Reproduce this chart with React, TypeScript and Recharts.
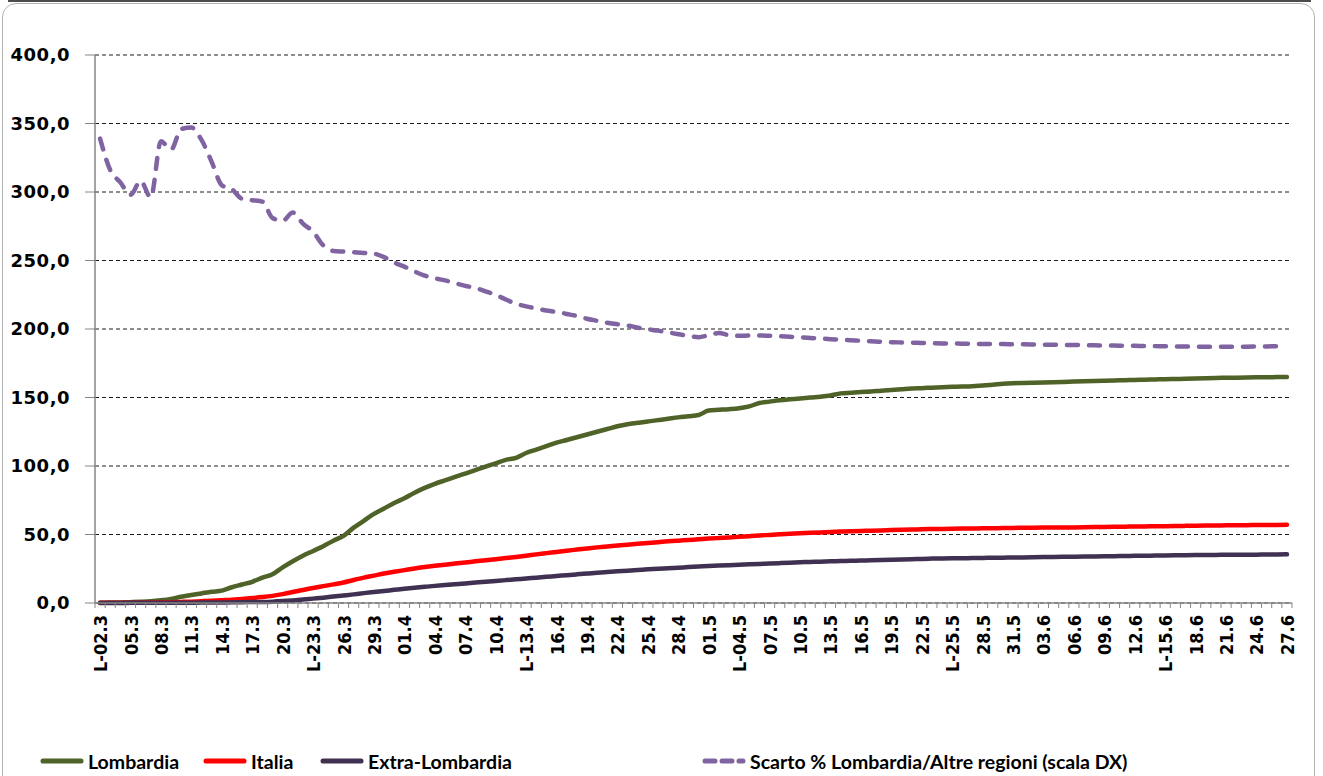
import React from 'react';
import { LineChart, Line, XAxis, YAxis, CartesianGrid } from 'recharts';

// giorni (L- = lunedì)
const DAYS = [
  'L-02.3', '03.3', '04.3', '05.3', '06.3', '07.3', '08.3', 'L-09.3', '10.3', '11.3',
  '12.3', '13.3', '14.3', '15.3', 'L-16.3', '17.3', '18.3', '19.3', '20.3', '21.3',
  '22.3', 'L-23.3', '24.3', '25.3', '26.3', '27.3', '28.3', '29.3', 'L-30.3', '31.3',
  '01.4', '02.4', '03.4', '04.4', '05.4', 'L-06.4', '07.4', '08.4', '09.4', '10.4',
  '11.4', '12.4', 'L-13.4', '14.4', '15.4', '16.4', '17.4', '18.4', '19.4', 'L-20.4',
  '21.4', '22.4', '23.4', '24.4', '25.4', '26.4', 'L-27.4', '28.4', '29.4', '30.4',
  '01.5', '02.5', '03.5', 'L-04.5', '05.5', '06.5', '07.5', '08.5', '09.5', '10.5',
  'L-11.5', '12.5', '13.5', '14.5', '15.5', '16.5', '17.5', 'L-18.5', '19.5', '20.5',
  '21.5', '22.5', '23.5', '24.5', 'L-25.5', '26.5', '27.5', '28.5', '29.5', '30.5',
  '31.5', 'L-01.6', '02.6', '03.6', '04.6', '05.6', '06.6', '07.6', 'L-08.6', '09.6',
  '10.6', '11.6', '12.6', '13.6', '14.6', 'L-15.6', '16.6', '17.6', '18.6', '19.6',
  '20.6', '21.6', 'L-22.6', '23.6', '24.6', '25.6', '26.6', '27.6',
];

const LOMBARDIA = [
  0.2, 0.3, 0.4, 0.6, 0.9, 1.3, 2.0, 3.0, 4.5, 5.8,
  7.0, 8.2, 9.0, 11.5, 13.5, 15.5, 18.5, 21.0, 26.0, 30.5,
  34.5, 38.0, 41.5, 45.5, 49.0, 55.0, 60.0, 65.0, 69.0, 73.0,
  76.5, 80.5, 84.0, 87.0, 89.5, 92.0, 94.5, 97.0, 99.5, 102.0,
  104.5, 106.0, 109.5, 112.0, 114.5, 117.0, 119.0, 121.0, 123.0, 125.0,
  127.0, 129.0, 130.5, 131.5, 132.5, 133.5, 134.5, 135.5, 136.3, 137.2,
  140.5, 141.0, 141.5, 142.2, 143.5, 146.0, 147.0, 148.0, 148.7, 149.3,
  150.0, 150.6, 151.5, 153.0, 153.5, 154.0, 154.3, 155.0, 155.5, 156.0,
  156.5, 156.8, 157.2, 157.5, 157.8, 158.0, 158.3, 158.8, 159.3, 160.0,
  160.4, 160.6, 160.8, 161.0, 161.2, 161.4, 161.6, 161.8, 162.0, 162.2,
  162.4, 162.6, 162.8, 163.0, 163.2, 163.4, 163.5, 163.7, 163.9, 164.1,
  164.3, 164.4, 164.5, 164.6, 164.7, 164.8, 164.9, 165.0,
];

const ITALIA = [
  0.1, 0.1, 0.2, 0.2, 0.3, 0.4, 0.5, 0.6, 0.8, 1.0,
  1.3, 1.6, 2.0, 2.4, 3.0, 3.6, 4.3, 5.2, 6.5, 8.0,
  9.5, 11.0, 12.3, 13.6, 15.0, 16.8, 18.5, 20.0, 21.5, 22.8,
  24.0, 25.2, 26.3, 27.2, 28.0, 28.8, 29.6, 30.4, 31.2, 32.0,
  32.8, 33.6, 34.5, 35.5, 36.4, 37.3, 38.2, 39.0, 39.8, 40.6,
  41.3, 42.0, 42.6, 43.2, 43.8, 44.4, 45.0, 45.5, 46.0, 46.5,
  47.0, 47.4, 47.8, 48.3, 48.8, 49.3, 49.7, 50.1, 50.5, 50.9,
  51.2, 51.5, 51.8, 52.1, 52.4, 52.6, 52.8, 53.0, 53.2, 53.4,
  53.6, 53.8, 54.0, 54.1, 54.2, 54.3, 54.4, 54.5, 54.6, 54.7,
  54.8, 54.9, 55.0, 55.05, 55.1, 55.15, 55.2, 55.3, 55.4, 55.5,
  55.6, 55.7, 55.8, 55.9, 56.0, 56.1, 56.2, 56.3, 56.4, 56.5,
  56.6, 56.7, 56.8, 56.8, 56.9, 57.0, 57.0, 57.1,
];

const EXTRA_LOMBARDIA = [
  0.0, 0.0, 0.0, 0.1, 0.1, 0.1, 0.1, 0.2, 0.2, 0.2,
  0.3, 0.3, 0.4, 0.5, 0.6, 0.7, 0.8, 1.0, 1.4, 1.9,
  2.5, 3.2, 3.9, 4.7, 5.5, 6.3, 7.2, 8.0, 8.8, 9.6,
  10.4, 11.1, 11.8, 12.5, 13.1, 13.7, 14.3, 14.9, 15.5, 16.1,
  16.7, 17.3, 17.9, 18.5, 19.1, 19.7, 20.3, 20.9, 21.5, 22.1,
  22.6, 23.1, 23.6, 24.1, 24.6, 25.0, 25.4, 25.8, 26.2, 26.6,
  27.0, 27.3, 27.6, 27.9, 28.2, 28.5, 28.8, 29.1, 29.4, 29.7,
  30.0, 30.2, 30.4, 30.6, 30.8, 31.0, 31.2, 31.4, 31.6, 31.8,
  32.0, 32.2, 32.4, 32.5, 32.6, 32.7, 32.8, 32.9, 33.0, 33.1,
  33.2, 33.3, 33.4, 33.5, 33.6, 33.7, 33.8, 33.9, 34.0, 34.1,
  34.2, 34.3, 34.4, 34.5, 34.6, 34.7, 34.8, 34.9, 35.0, 35.1,
  35.1, 35.2, 35.2, 35.3, 35.3, 35.4, 35.4, 35.5,
];

// scarto % Lombardia / altre regioni (scala DX)
const SCARTO = [
  339, 316, 307, 298, 308, 296, 337, 331, 346, 347,
  338, 322, 305, 302, 295, 294, 293, 281, 279, 285,
  277, 271, 261, 257, 256.5, 256, 255.5, 255, 252.5, 248.5,
  245.5, 242, 239, 237, 235.5, 233.5, 231.5, 230, 227.5, 225,
  221.5, 218.5, 216.5, 215, 213.5, 212.5, 211, 209.5, 207.5, 206,
  204.5, 203.5, 202.5, 201, 199.8, 198.8, 197.5, 196.2, 195, 194,
  195.5, 197, 195.5, 195, 195.2, 195.3, 195, 194.7, 194.3, 194,
  193.5, 193, 192.6, 192.2, 191.8, 191.4, 191, 190.7, 190.4, 190.2,
  190, 189.8, 189.6, 189.5, 189.4, 189.3, 189.2, 189.1, 189, 189,
  188.9, 188.8, 188.7, 188.6, 188.5, 188.4, 188.3, 188.2, 188.1, 188,
  187.9, 187.8, 187.7, 187.6, 187.5, 187.4, 187.3, 187.2, 187.1, 187,
  187, 187, 187, 187.1, 187.2, 187.3, 187.4, 187.5,
];

const Y_TICKS = [0, 50, 100, 150, 200, 250, 300, 350, 400];

const SERIES = [
  { key: 'lombardia', name: 'Lombardia', color: '#4F6228', dashed: false },
  { key: 'italia', name: 'Italia', color: '#FF0000', dashed: false },
  { key: 'extra', name: 'Extra-Lombardia', color: '#403152', dashed: false },
  { key: 'scarto', name: 'Scarto % Lombardia/Altre regioni (scala DX)', color: '#8064A2', dashed: true },
];

const data = DAYS.map((day, i) => ({
  day,
  lombardia: LOMBARDIA[i],
  italia: ITALIA[i],
  extra: EXTRA_LOMBARDIA[i],
  scarto: SCARTO[i],
}));

const W = 1323;
const H = 776;
const MARGIN = { top: 55, right: 31, left: 15, bottom: 73 };
const Y_AXIS_W = 80;
const PLOT_W = W - MARGIN.left - MARGIN.right - Y_AXIS_W;
const BAND = PLOT_W / DAYS.length;
const AXIS_GRAY = '#868686';

const LEGEND_X = [40, 203, 320, 702];

function DayTick(props: any) {
  const { x, y, payload, index } = props;
  const edge = x - BAND / 2;
  return (
    <g>
      <line x1={edge} x2={edge} y1={y} y2={y + 5} stroke={AXIS_GRAY} strokeWidth={1} />
      {index === DAYS.length - 1 && (
        <line x1={x + BAND / 2} x2={x + BAND / 2} y1={y} y2={y + 5} stroke={AXIS_GRAY} strokeWidth={1} />
      )}
      {index % 3 === 0 && (
        <text
          transform={`translate(${x + 7},${y + 12}) rotate(-90)`}
          textAnchor="end"
          fontFamily="'Liberation Sans Narrow', 'DejaVu Sans Condensed', sans-serif"
          fontWeight="bold"
          fontSize={18}
          fill="#000"
        >
          {payload.value}
        </text>
      )}
    </g>
  );
}

function LegendRow() {
  return (
    <div style={{ position: 'absolute', left: 0, top: 747, width: W, height: 28 }}>
      {SERIES.map((s, i) => (
        <div
          key={s.key}
          style={{
            position: 'absolute',
            left: LEGEND_X[i],
            top: 0,
            height: 28,
            display: 'flex',
            alignItems: 'center',
            whiteSpace: 'nowrap',
          }}
        >
          <svg width={44} height={10} style={{ marginRight: 4 }}>
            <line
              x1={3}
              x2={41}
              y1={5}
              y2={5}
              stroke={s.color}
              strokeWidth={5}
              strokeLinecap="round"
              strokeDasharray={s.dashed ? '10 7' : undefined}
            />
          </svg>
          <span style={{ fontFamily: 'Lato, sans-serif', fontWeight: 700, fontSize: 19.5, color: '#000' }}>
            {s.name}
          </span>
        </div>
      ))}
    </div>
  );
}

export default function App() {
  return (
    <div style={{ position: 'absolute', left: 0, top: 0, width: W, height: H, background: '#fff', overflow: 'hidden' }}>
      <div style={{ position: 'absolute', left: 8, top: 0, width: 1303, height: 2, background: '#4d4d4d' }} />
      <div
        style={{
          position: 'absolute',
          left: 2,
          top: 3,
          width: 1313,
          height: 800,
          border: '1px solid #b3b3b3',
          borderRadius: 14,
          boxSizing: 'border-box',
        }}
      />
      <div style={{ position: 'absolute', left: 0, top: 0 }}>
        <LineChart width={W} height={H} data={data} margin={MARGIN}>
          <CartesianGrid yAxisId="left" vertical={false} stroke="#1a1a1a" strokeDasharray="4 3" />
          <XAxis
            dataKey="day"
            interval={0}
            tick={<DayTick />}
            tickLine={false}
            tickSize={0}
            tickMargin={0}
            height={100}
            padding={{ left: BAND / 2, right: BAND / 2 }}
            axisLine={{ stroke: AXIS_GRAY, strokeWidth: 1.5 }}
          />
          <YAxis
            yAxisId="left"
            width={Y_AXIS_W}
            domain={[0, 400]}
            ticks={Y_TICKS}
            interval={0}
            tickFormatter={(v: number) => v.toFixed(1).replace('.', ',')}
            tickSize={10}
            tickMargin={15}
            axisLine={{ stroke: AXIS_GRAY, strokeWidth: 1.5 }}
            tickLine={{ stroke: AXIS_GRAY }}
            tick={{ fill: '#000', fontFamily: "'DejaVu Sans', sans-serif", fontWeight: 700, fontSize: 18, letterSpacing: 0.5 }}
          />
          <YAxis yAxisId="right" orientation="right" hide domain={[0, 400]} />
          {SERIES.map((s) => (
            <Line
              key={s.key}
              yAxisId={s.dashed ? 'right' : 'left'}
              type="monotone"
              dataKey={s.key}
              name={s.name}
              stroke={s.color}
              strokeWidth={4.5}
              strokeLinecap="round"
              strokeDasharray={s.dashed ? '11 11' : undefined}
              dot={false}
              activeDot={false}
              isAnimationActive={false}
            />
          ))}
        </LineChart>
      </div>
      <LegendRow />
    </div>
  );
}
